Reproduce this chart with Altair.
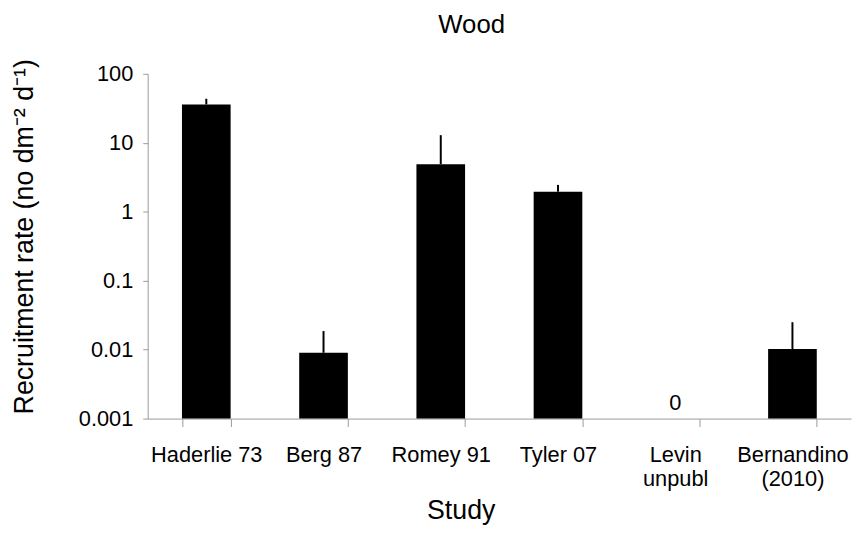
import altair as alt
import pandas as pd

# ---- data ----
studies = ["Haderlie 73", "Berg 87", "Romey 91", "Tyler 07", "Levin|unpubl", "Bernandino|(2010)"]
bar_studies = ["Haderlie 73", "Berg 87", "Romey 91", "Tyler 07", "Bernandino|(2010)"]
rates = [36, 0.009, 4.9, 1.95, 0.0102]
err_tops = [43.5, 0.0186, 12.9, 2.45, 0.025]
zero_study = ["Levin|unpubl"]
zero_label = ["0"]
zero_pos = [0.0017]
y_ticks = [100, 10, 1, 0.1, 0.01, 0.001]
y_min, y_max = 0.001, 100

df = pd.DataFrame({"study": bar_studies, "rate": rates, "err": err_tops,
                   "base": [y_min] * len(bar_studies)})
zdf = pd.DataFrame({"study": zero_study, "label": zero_label, "pos": zero_pos})

FONT = "Liberation Sans"
AX = "#9a9a9a"

xenc = alt.X(
    "study:N",
    sort=studies,
    scale=alt.Scale(domain=studies, paddingInner=0.585, paddingOuter=0.2925),
    axis=alt.Axis(
        title="Study",
        labelExpr="split(datum.label, '|')",
        labelAngle=0,
        tickBand="extent",
        tickSize=8,
        labelPadding=18,
        labelLineHeight=25,
        labelBaseline="top",
        titleFontSize=27,
        titleX=316,
        titleY=101,
        titleBaseline="alphabetic",
    ),
)
yscale = alt.Scale(type="log", domain=[y_min, y_max], nice=False)
yaxis = alt.Axis(
    title="Recruitment rate (no dm\u207b\u00b2 d\u207b\u00b9)",
    values=y_ticks,
    format="~g",
    tickSize=5,
    labelPadding=10,
    titleFontSize=27,
    titleX=-124,
    titleY=164,
    titleAngle=-90,
    titleAlign="center",
    titleBaseline="middle",
)

bars = alt.Chart(df).mark_bar(color="black").encode(
    x=xenc,
    y=alt.Y("rate:Q", scale=yscale, axis=yaxis),
    y2="base:Q",
)
errs = alt.Chart(df).mark_rule(color="black", strokeWidth=2).encode(
    x=alt.X("study:N", sort=studies),
    y=alt.Y("rate:Q"),
    y2="err:Q",
)
zero = alt.Chart(zdf).mark_text(font=FONT, fontSize=22, color="black").encode(
    x=alt.X("study:N", sort=studies),
    y=alt.Y("pos:Q"),
    text="label:N",
)

chart = (
    alt.layer(bars, errs, zero)
    .properties(
        width=710,
        height=348,
        title=alt.TitleParams("Wood", font=FONT, fontSize=26, fontWeight="normal",
                              color="black", anchor="middle", dx=-28, offset=21),
        autosize=alt.AutoSizeParams(type="none"),
        padding={"left": 141, "top": 64, "right": 6, "bottom": 108},
    )
    .configure_view(stroke=None)
    .configure_axis(
        grid=False,
        domainColor=AX,
        tickColor=AX,
        labelFont=FONT,
        labelFontSize=22,
        labelColor="black",
        titleFont=FONT,
        titleFontWeight="normal",
        titleColor="black",
    )
)

chart.save("out.html", embed_options={"renderer": "svg", "actions": False})
